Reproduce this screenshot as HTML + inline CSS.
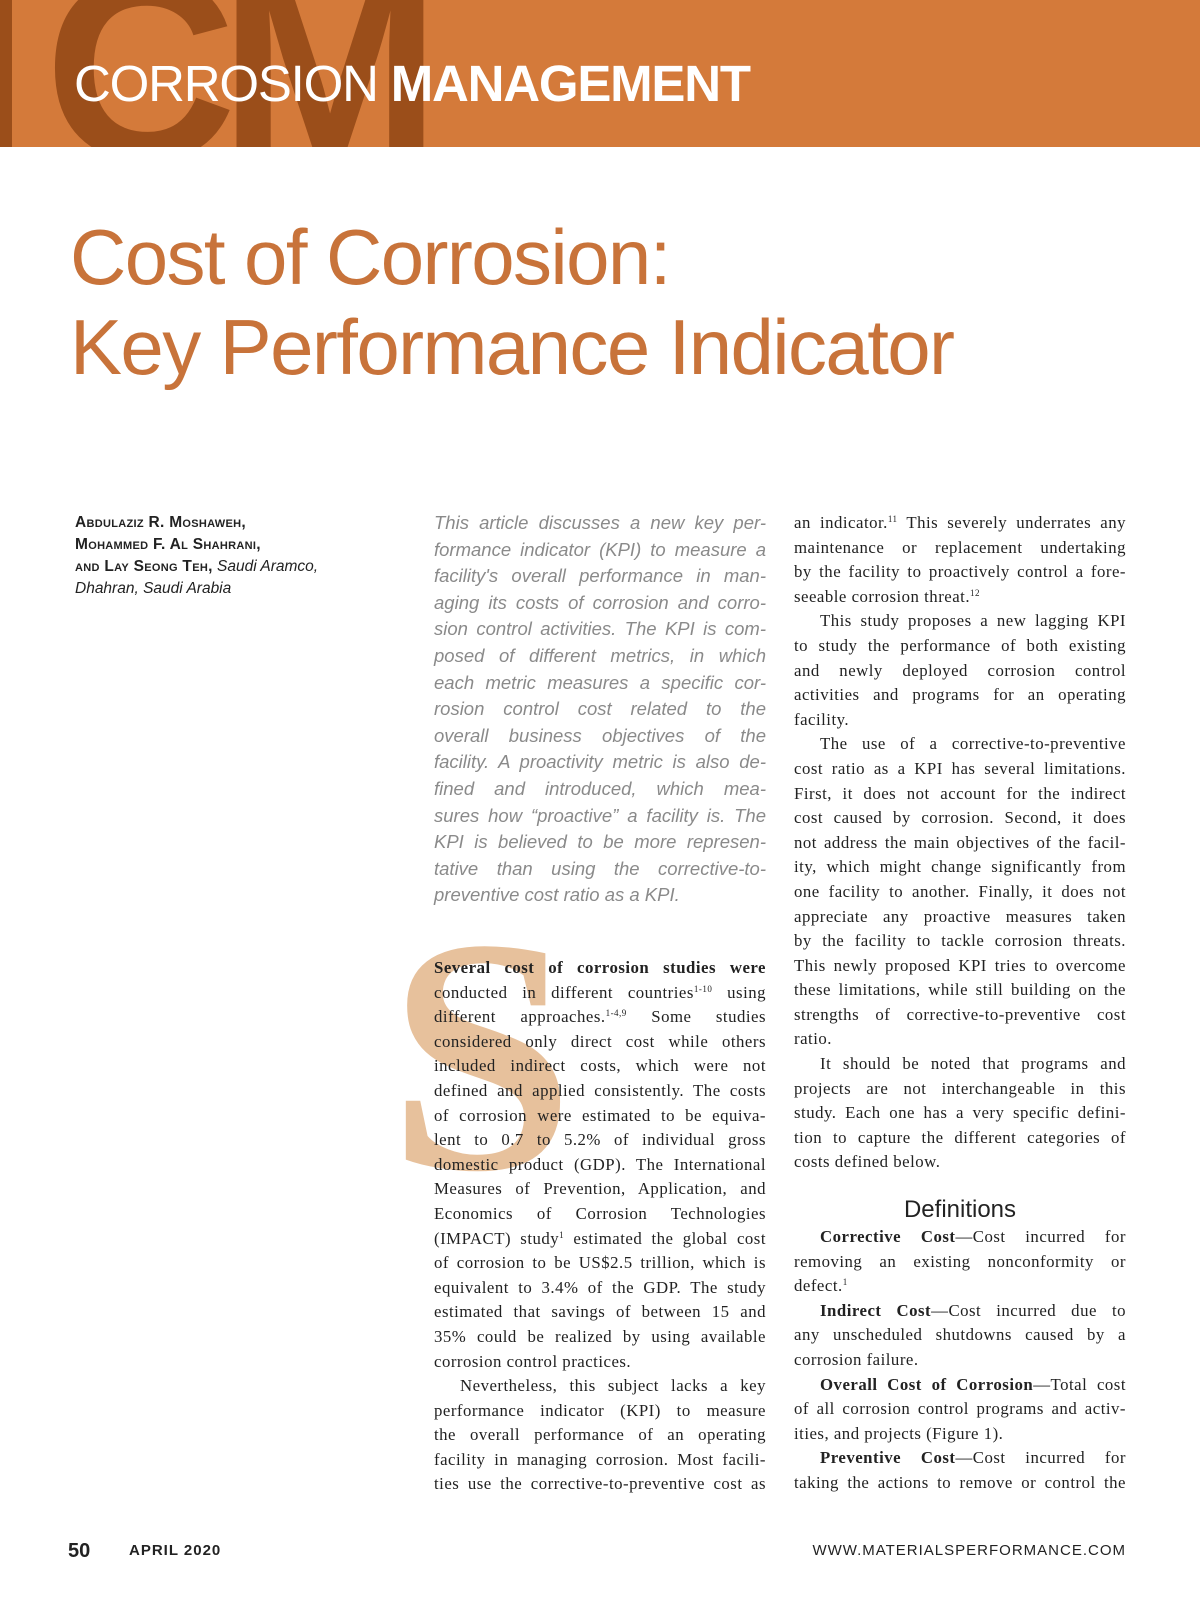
<!DOCTYPE html>
<html><head><meta charset="utf-8"><style>
*{margin:0;padding:0;box-sizing:border-box}
body{width:1200px;height:1606px;background:#fff;position:relative;overflow:hidden;font-family:"Liberation Sans",sans-serif}
.hdr{position:absolute;left:0;top:0;width:1200px;height:147px;background:#d47a3a;overflow:hidden}
.bar{position:absolute;left:0;top:0;width:12px;height:147px;background:#9b4e1a}
.cm{position:absolute;left:44px;top:-62px;font:bold 262px/1 "Liberation Sans",sans-serif;color:#9b4e1a;letter-spacing:-18px;transform:scaleX(1.02);transform-origin:left}
.ht{position:absolute;left:74px;top:54px;font-size:51px;color:#fff;white-space:nowrap;letter-spacing:-1.2px}
.ht b{font-weight:bold}
.title{position:absolute;left:70px;font-size:78px;color:#c8733a;white-space:nowrap;letter-spacing:-1.6px}
.auth{position:absolute;left:75px;top:512px;font-size:15.5px;line-height:22px;color:#222}
.auth .sc{font-variant:small-caps;font-weight:bold;letter-spacing:.3px}
.abs{position:absolute;left:434px;top:510px;width:332px;font:italic 18.5px/26.6px "Liberation Sans",sans-serif;color:#8a8a8a}
.col{position:absolute;width:332px;font:16.8px/24.6px "Liberation Serif",serif;letter-spacing:0.5px;color:#222}
.l{text-align:justify;text-align-last:justify;white-space:nowrap;overflow:visible}
.e{text-align:left;text-align-last:left}
.i{padding-left:26px}
sup{font-size:9px;line-height:0;vertical-align:6px}
.S{position:absolute;left:388px;top:888px;font:bold 335px/1 "Liberation Serif",serif;color:#e7c19c}
.def{height:50px;padding-top:20px;font:24px/30px "Liberation Sans",sans-serif;color:#222;text-align:center;letter-spacing:0}
.foot{position:absolute;top:1542px;font-size:15px;color:#222}
</style></head><body>
<div class="hdr">
<div class="bar"></div>
<div class="cm">CM</div>
<div class="ht">CORROSION <b>MANAGEMENT</b></div>
</div>
<div class="title" style="top:212px">Cost of Corrosion:</div>
<div class="title" style="top:302px">Key Performance Indicator</div>
<div class="auth">
<div class="sc">Abdulaziz R. Moshaweh,</div>
<div class="sc">Mohammed F. Al Shahrani,</div>
<div><span class="sc">and Lay Seong Teh,</span> <i>Saudi Aramco,</i></div>
<div><i>Dhahran, Saudi Arabia</i></div>
</div>
<div class="abs">
<div class="l">This article discusses a new key per-</div>
<div class="l">formance indicator (KPI) to measure a</div>
<div class="l">facility's overall performance in man-</div>
<div class="l">aging its costs of corrosion and corro-</div>
<div class="l">sion control activities. The KPI is com-</div>
<div class="l">posed of different metrics, in which</div>
<div class="l">each metric measures a specific cor-</div>
<div class="l">rosion control cost related to the</div>
<div class="l">overall business objectives of the</div>
<div class="l">facility. A proactivity metric is also de-</div>
<div class="l">fined and introduced, which mea-</div>
<div class="l">sures how “proactive” a facility is. The</div>
<div class="l">KPI is believed to be more represen-</div>
<div class="l">tative than using the corrective-to-</div>
<div class="l e">preventive cost ratio as a KPI.</div>
</div>
<div class="S">S</div>
<div class="col" style="left:434px;top:956px">
<div class="l"><b>Several cost of corrosion studies were</b></div>
<div class="l">conducted in different countries<sup>1-10</sup> using</div>
<div class="l">different approaches.<sup>1-4,9</sup> Some studies</div>
<div class="l">considered only direct cost while others</div>
<div class="l">included indirect costs, which were not</div>
<div class="l">defined and applied consistently. The costs</div>
<div class="l">of corrosion were estimated to be equiva-</div>
<div class="l">lent to 0.7 to 5.2% of individual gross</div>
<div class="l">domestic product (GDP). The International</div>
<div class="l">Measures of Prevention, Application, and</div>
<div class="l">Economics of Corrosion Technologies</div>
<div class="l">(IMPACT) study<sup>1</sup> estimated the global cost</div>
<div class="l">of corrosion to be US$2.5 trillion, which is</div>
<div class="l">equivalent to 3.4% of the GDP. The study</div>
<div class="l">estimated that savings of between 15 and</div>
<div class="l">35% could be realized by using available</div>
<div class="l e">corrosion control practices.</div>
<div class="l i">Nevertheless, this subject lacks a key</div>
<div class="l">performance indicator (KPI) to measure</div>
<div class="l">the overall performance of an operating</div>
<div class="l">facility in managing corrosion. Most facili-</div>
<div class="l">ties use the corrective-to-preventive cost as</div>
</div>
<div class="col" style="left:794px;top:511px">
<div class="l">an indicator.<sup>11</sup> This severely underrates any</div>
<div class="l">maintenance or replacement undertaking</div>
<div class="l">by the facility to proactively control a fore-</div>
<div class="l e">seeable corrosion threat.<sup>12</sup></div>
<div class="l i">This study proposes a new lagging KPI</div>
<div class="l">to study the performance of both existing</div>
<div class="l">and newly deployed corrosion control</div>
<div class="l">activities and programs for an operating</div>
<div class="l e">facility.</div>
<div class="l i">The use of a corrective-to-preventive</div>
<div class="l">cost ratio as a KPI has several limitations.</div>
<div class="l">First, it does not account for the indirect</div>
<div class="l">cost caused by corrosion. Second, it does</div>
<div class="l">not address the main objectives of the facil-</div>
<div class="l">ity, which might change significantly from</div>
<div class="l">one facility to another. Finally, it does not</div>
<div class="l">appreciate any proactive measures taken</div>
<div class="l">by the facility to tackle corrosion threats.</div>
<div class="l">This newly proposed KPI tries to overcome</div>
<div class="l">these limitations, while still building on the</div>
<div class="l">strengths of corrective-to-preventive cost</div>
<div class="l e">ratio.</div>
<div class="l i">It should be noted that programs and</div>
<div class="l">projects are not interchangeable in this</div>
<div class="l">study. Each one has a very specific defini-</div>
<div class="l">tion to capture the different categories of</div>
<div class="l e">costs defined below.</div>
<div class="def">Definitions</div>
<div class="l i"><b>Corrective Cost</b>—Cost incurred for</div>
<div class="l">removing an existing nonconformity or</div>
<div class="l e">defect.<sup>1</sup></div>
<div class="l i"><b>Indirect Cost</b>—Cost incurred due to</div>
<div class="l">any unscheduled shutdowns caused by a</div>
<div class="l e">corrosion failure.</div>
<div class="l i"><b>Overall Cost of Corrosion</b>—Total cost</div>
<div class="l">of all corrosion control programs and activ-</div>
<div class="l e">ities, and projects (Figure 1).</div>
<div class="l i"><b>Preventive Cost</b>—Cost incurred for</div>
<div class="l">taking the actions to remove or control the</div>
</div>
<div class="foot" style="left:68px;font-size:20px;top:1540px;font-weight:bold">50</div>
<div class="foot" style="left:129px;font-weight:bold;letter-spacing:1px">APRIL 2020</div>
<div class="foot" style="right:74px;letter-spacing:1px">WWW.MATERIALSPERFORMANCE.COM</div>
</body></html>
